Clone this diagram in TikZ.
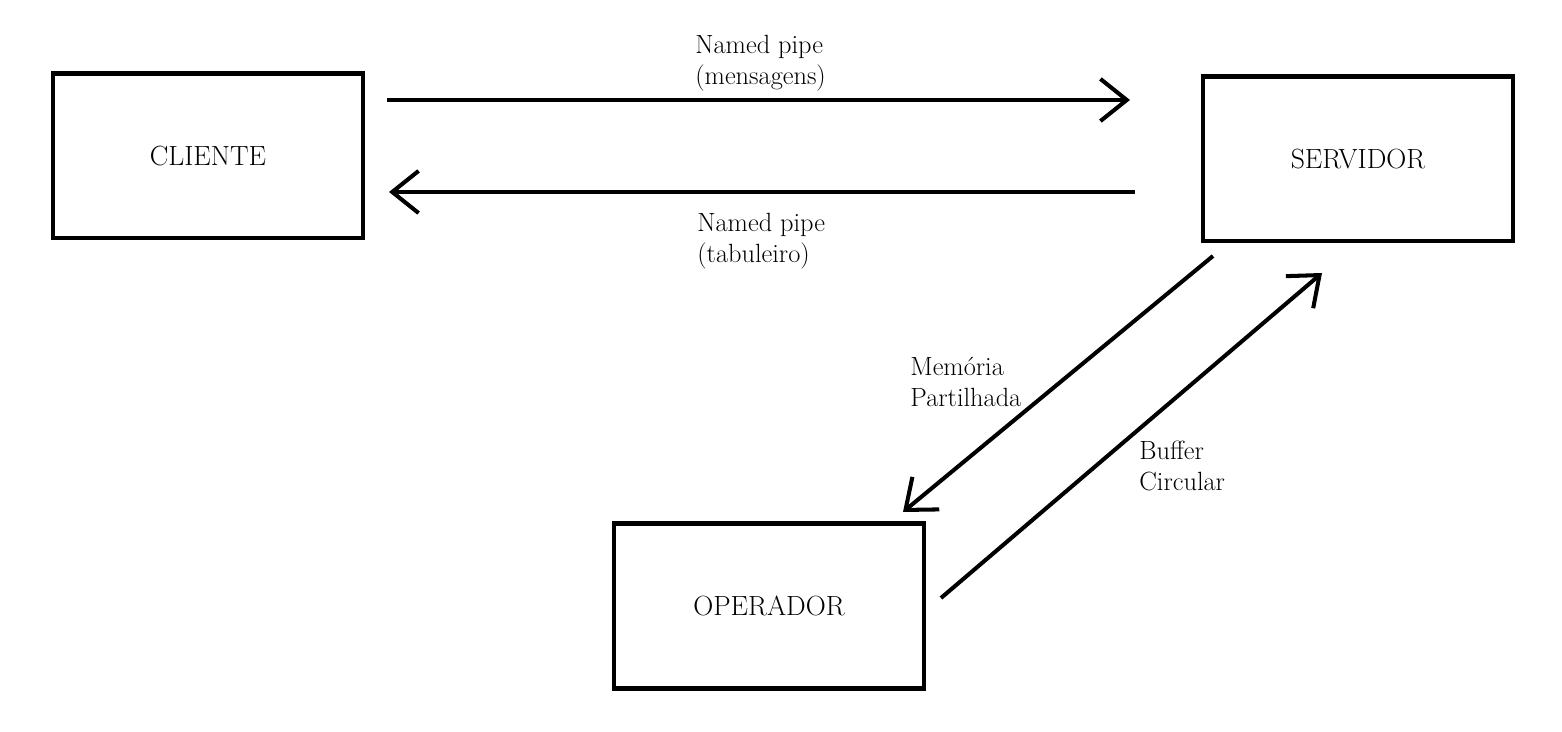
\documentclass[tikz,border=0pt]{standalone}
\usetikzlibrary{arrows.meta}
\begin{document}
\begin{tikzpicture}[x=0.02cm, y=-0.02cm,
  box/.style = {draw, line width=2.3pt, minimum width=6.2cm, minimum height=3.3cm, font=\fontsize{15.8}{19}\selectfont},
  pipe/.style = {line width=2.3pt, -{Straight Barb[length=15pt, width=24pt]}},
  lbl/.style = {anchor=west, align=left, inner sep=0pt, font=\fontsize{15}{18}\selectfont}]
\useasboundingbox (0,0) rectangle (1562,732);

\node[box] (cliente) at (208,156) {CLIENTE};
\node[box] (servidor) at (1358,159) {SERVIDOR};
\node[box] (operador) at (769,606) {OPERADOR};

% pontas das setas
\coordinate (c1) at (387,100);
\coordinate (s1) at (1130,100);
\coordinate (s2) at (1135,192);
\coordinate (c2) at (389,192);
\coordinate (s3) at (1213,256);
\coordinate (o3) at (903,512);
\coordinate (o4) at (941,598);
\coordinate (s4) at (1322,273);

\draw[pipe] (c1) -- (s1);
\draw[pipe] (s2) -- (c2);
\draw[pipe] (s3) -- (o3);
\draw[pipe] (o4) -- (s4);

\node[lbl] (np1) at (695,63) {Named pipe\\(mensagens)};
\node[lbl] (np2) at (697,241) {Named pipe\\(tabuleiro)};
\node[lbl] (mem) at (910,382) {Memória\\Partilhada};
\node[lbl] (buf) at (1139,466) {Buffer\\Circular};

\end{tikzpicture}
\end{document}
